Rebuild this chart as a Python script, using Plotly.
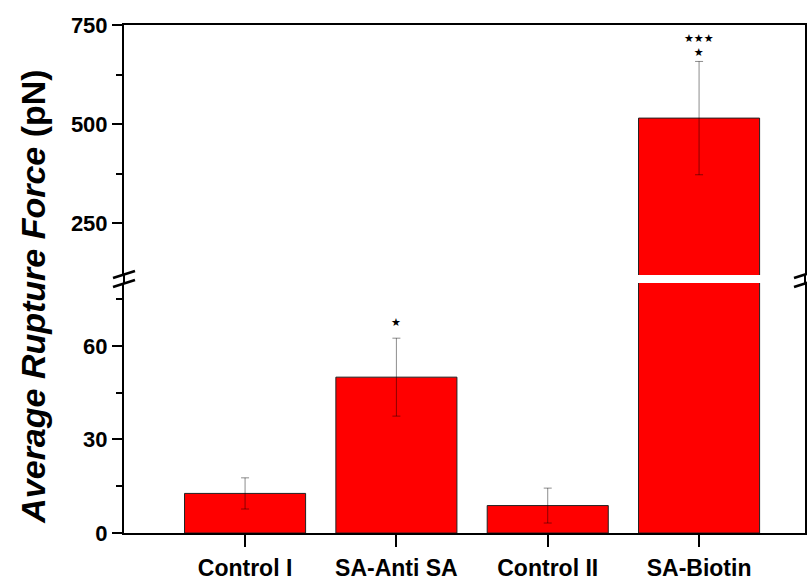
import plotly.graph_objects as go

categories = ["Control I", "SA-Anti SA", "Control II", "SA-Biotin"]
means = [12.7, 50.0, 8.8, 515.0]
errors = [5.0, 12.5, 5.6, 143.0]
lower_ticks = [0, 30, 60]
upper_ticks = [250, 500, 750]
sig_labels = ["★", "★★★<br>★"]
sig_cats = ["SA-Anti SA", "SA-Biotin"]
sig_vals = [67.4, 698]
sig_axes = ["y", "y2"]

LOW_RANGE = [0, 80.2]
UP_RANGE = [119, 750]
FONT = "Arial, Liberation Sans, sans-serif"

fig = go.Figure()
bar_style = dict(marker=dict(color="#ff0000", line=dict(color="#222222", width=1)),
                 width=0.8, showlegend=False)
# lower segment bars
fig.add_trace(go.Bar(x=categories, y=means, xaxis="x", yaxis="y", **bar_style))
# upper segment bar (only the tall one reaches this segment)
fig.add_trace(go.Bar(x=categories[3:], y=means[3:], xaxis="x2", yaxis="y2", **bar_style))

err_style = dict(type="data", thickness=1, width=4, color="rgba(0,0,0,0.45)")
fig.add_trace(go.Scatter(x=categories[:3], y=means[:3], mode="markers",
                         marker=dict(size=0.1, opacity=0), xaxis="x", yaxis="y",
                         error_y=dict(array=errors[:3], **err_style), showlegend=False))
fig.add_trace(go.Scatter(x=categories[3:], y=means[3:], mode="markers",
                         marker=dict(size=0.1, opacity=0), xaxis="x2", yaxis="y2",
                         error_y=dict(array=errors[3:], **err_style), showlegend=False))

low_top = 0.4921
up_bot = 0.5079

fig.update_layout(
    width=807, height=581,
    margin=dict(l=124, r=2, t=25, b=48),
    paper_bgcolor="white", plot_bgcolor="white",
    bargap=0.2,
    font=dict(family=FONT, color="black"),
    xaxis=dict(domain=[0, 1], anchor="y", range=[-0.8, 3.7], type="category",
               categoryorder="array", categoryarray=categories,
               showline=True, linecolor="black", linewidth=2,
               ticks="outside", ticklen=12, tickwidth=2, tickcolor="black",
               ticklabelstandoff=1, automargin=False,
               tickfont=dict(size=23, family=FONT, weight="bold"),
               showgrid=False, zeroline=False),
    xaxis2=dict(domain=[0, 1], anchor="y2", matches="x", type="category",
                categoryorder="array", categoryarray=categories,
                side="top", showline=True, linecolor="black", linewidth=2,
                automargin=False,
                showticklabels=False, ticks="", showgrid=False, zeroline=False),
    yaxis=dict(domain=[0, low_top], range=LOW_RANGE, anchor="x",
               tickvals=lower_ticks, ticks="outside", ticklen=10, tickwidth=2,
               tickcolor="black", showline=True, linecolor="black", linewidth=2,
               mirror=True, showgrid=False, zeroline=False, automargin=False,
               tickfont=dict(size=22, family=FONT, weight="bold"),
               minor=dict(tickvals=[15, 45, 75], ticks="outside", ticklen=6,
                          tickwidth=2, tickcolor="black")),
    yaxis2=dict(domain=[up_bot, 1], range=UP_RANGE, anchor="x2",
                tickvals=upper_ticks, ticks="outside", ticklen=10, tickwidth=2,
                tickcolor="black", showline=True, linecolor="black", linewidth=2,
                mirror=True, showgrid=False, zeroline=False, automargin=False,
                tickfont=dict(size=22, family=FONT, weight="bold"),
                minor=dict(tickvals=[375, 625], ticks="outside", ticklen=6,
                           tickwidth=2, tickcolor="black")),
)

# significance markers
for lab, cat, val, ax in zip(sig_labels, sig_cats, sig_vals, sig_axes):
    fig.add_annotation(x=cat, y=val, xref="x" if ax == "y" else "x2", yref=ax,
                       text=lab, showarrow=False,
                       font=dict(size=11, family="DejaVu Sans", color="black"))

# y-axis title spanning both segments
fig.add_annotation(xref="paper", yref="paper", x=-0.134, y=0.4646,
                   text="<b><i>Average Rupture Force</i> (pN)</b>", textangle=-90,
                   showarrow=False, xanchor="center", yanchor="middle",
                   font=dict(size=34, family=FONT, color="black"))

# axis continuation across the break gap and break marks
px_w, px_h = 681.0, 508.0
def px(xp, yp):
    return (xp - 124) / px_w, (533 - yp) / px_h

shapes = []
for xl in (0, 1):
    shapes.append(dict(type="line", xref="paper", yref="paper", x0=xl, x1=xl,
                       y0=low_top, y1=up_bot, line=dict(color="black", width=2)))
for cx in (124, 805):
    for dy in (0, 9):
        x0, y0 = px(cx - 11, 278 + dy)
        x1, y1 = px(cx + 11, 271 + dy)
        shapes.append(dict(type="line", xref="paper", yref="paper",
                           x0=x0, y0=y0, x1=x1, y1=y1,
                           line=dict(color="black", width=2.5)))
fig.update_layout(shapes=shapes)

fig.write_html("out.html", config={"displayModeBar": False},
               post_script="document.body.style.margin='0';document.body.style.overflow='hidden';")
